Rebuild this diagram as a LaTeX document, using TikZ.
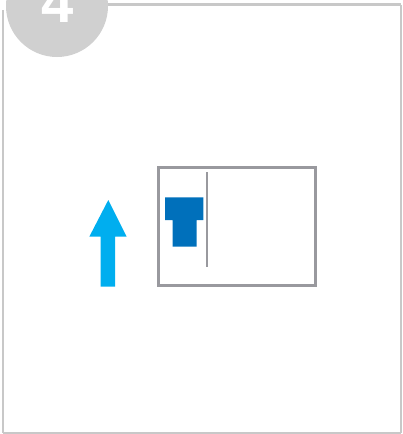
\documentclass[tikz,border=0pt]{standalone}
\usepackage{fontspec}
\setmainfont{Liberation Sans}

\definecolor{framegray}{RGB}{200,200,200}
\definecolor{badgegray}{RGB}{208,208,208}
\definecolor{boxgray}{RGB}{153,153,158}
\definecolor{tblue}{RGB}{0,112,187}
\definecolor{arrowcyan}{RGB}{0,174,239}

\begin{document}
\begin{tikzpicture}[
  x=1pt, y=-1pt,
  frameline/.style={draw=framegray},
  badge/.style={circle, fill=badgegray, minimum size=102pt, inner sep=0pt},
  screen/.style={draw=boxgray, line width=2.5pt, minimum width=157pt,
                 minimum height=118pt, inner sep=0pt},
]
% Coordinate system: 1 unit = 1 px of the 402x434 reference, y down

\useasboundingbox (0,0) rectangle (402,434);
\clip (0,0) rectangle (402,434);

% --- Frame ---
\draw[frameline, line width=3pt] (108,4.5) -- (401,4.5);
\draw[frameline, line width=1.5pt] (401,4.5) -- (401,432.5);
\draw[frameline, line width=2pt] (2.5,432.5) -- (401,432.5);
\draw[frameline, line width=2pt] (2.5,10) -- (2.5,432.5);

% --- Step badge ---
\node[badge] (badge) at (57,6) {};
\node[anchor=base, text=white, font=\bfseries\fontsize{58}{58}\selectfont]
  (stepno) at (57.5,22) {4};

% --- Screen with cursor ---
\node[screen] (box) at (237,226.7) {};
\draw[boxgray, line width=1.6pt] (206.7,172) -- (206.7,266.7);

% --- T glyph ---
\fill[tblue] (165,197.3) -- (203.3,197.3) -- (203.3,220) -- (196.7,220)
  -- (196.7,246.7) -- (172.7,246.7) -- (172.7,220) -- (165,220) -- cycle;

% --- Up arrow ---
\fill[arrowcyan] (108.3,200) -- (126.7,236.7) -- (115,236.7) -- (115,286.7)
  -- (100.7,286.7) -- (100.7,236.7) -- (89.3,236.7) -- cycle;

\end{tikzpicture}
\end{document}
